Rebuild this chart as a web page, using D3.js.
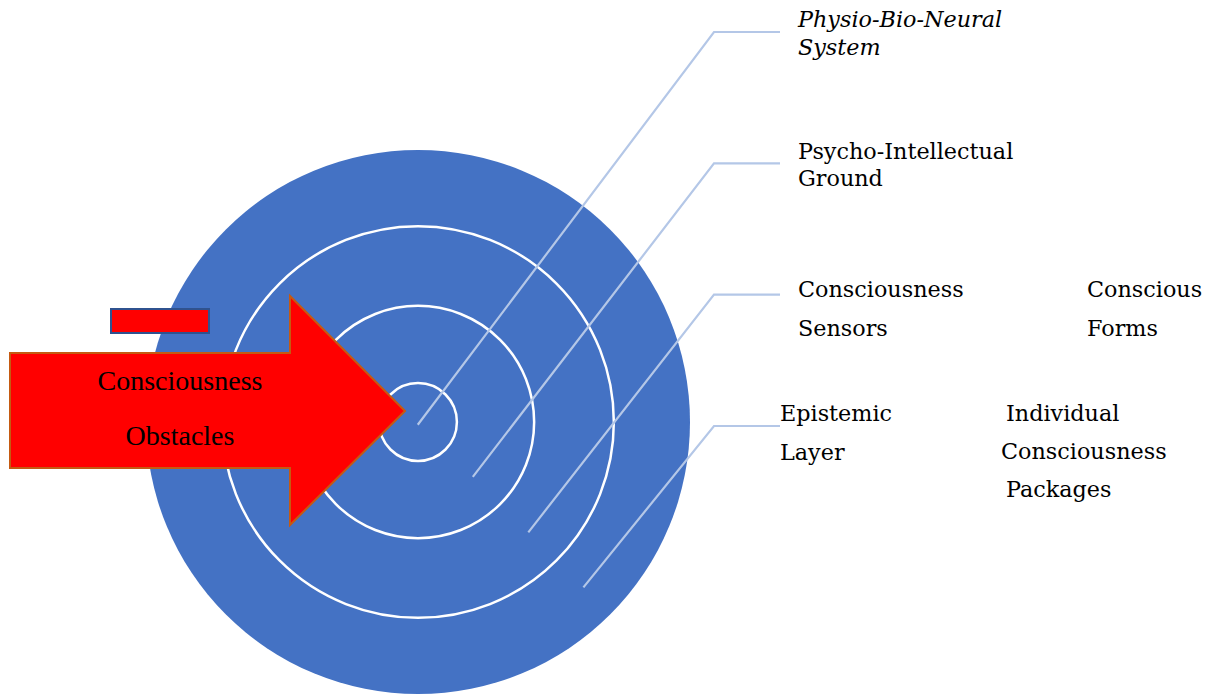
<!DOCTYPE html>
<html>
<head>
<meta charset="utf-8">
<script src="https://cdn.jsdelivr.net/npm/d3@7"></script>
<style>
  body { margin: 0; background: #fff; }
  svg { display: block; }
  .label { font-family: "DejaVu Serif", serif; font-size: 22.3px; fill: #000; }
</style>
</head>
<body>
<svg id="chart" width="1215" height="695"></svg>
<script>
// ring layers, outermost first (relative radius)
let ringNames = ['Epistemic Layer', 'Consciousness Sensors', 'Psycho-Intellectual Ground', 'Physio-Bio-Neural System'];
let ringRadius = [1, 0.72, 0.427, 0.143];

// label text blocks (lines per block), one leader per ring, innermost first
let leaderLabels = [
    { lines: ['Physio-Bio-Neural', 'System'], italic: true },
    { lines: ['Psycho-Intellectual', 'Ground'], italic: false },
    { lines: ['Consciousness', 'Sensors'], italic: false },
    { lines: ['Epistemic', 'Layer'], italic: false }
];
let extraLabels = [
    { lines: ['Conscious', 'Forms'] },
    { lines: ['Individual', 'Consciousness', 'Packages'] }
];
let arrowText = ['Consciousness', 'Obstacles'];

const svg = d3.select('#chart');
const cx = 418, cy = 422;

const r = d3.scaleLinear().domain([0, 1]).range([0, 272]); // relative radius -> px

// outer filled disc
svg.append('circle')
    .attr('cx', cx).attr('cy', cy)
    .attr('r', r(ringRadius[0]))
    .attr('fill', '#4472C4');

// inner white ring outlines
svg.selectAll('circle.ring')
    .data(ringRadius.slice(1))
    .enter().append('circle')
    .attr('class', 'ring')
    .attr('cx', cx).attr('cy', cy)
    .attr('r', d => r(d))
    .attr('fill', 'none')
    .attr('stroke', '#fff')
    .attr('stroke-width', 2.5);

// leader anchors: middle of each band on the 45 degree diagonal, innermost at centre
const inner = ringRadius.slice().reverse(); // innermost first
const anchorDist = inner.map((d, i) => i === 0 ? 0.03 : (inner[i] + inner[i - 1]) / 2);
const labelY = d3.scalePoint().domain(d3.range(4)).range([32, 426]);

const leaders = svg.append('g');
leaderLabels.forEach((lab, i) => {
    const dist = r(anchorDist[i]);
    const ax = cx + dist * Math.SQRT1_2 - (i === 0 ? 6 : 0);
    const ay = cy + dist * Math.SQRT1_2 - (i === 0 ? 3 : 0);
    const y = labelY(i);
    leaders.append('polyline')
        .attr('points', `${ax},${ay} 714,${y} 780,${y}`)
        .attr('fill', 'none')
        .attr('stroke', '#B4C7E7')
        .attr('stroke-width', 2.2);
});

// label text positions
const textPos = [
    { x: 798, y: 27, dy: 28 },
    { x: 798, y: 159, dy: 27 },
    { x: 798, y: 297, dy: 39 },
    { x: 780, y: 421, dy: 39 }
];
leaderLabels.forEach((lab, i) => {
    const p = textPos[i];
    lab.lines.forEach((line, j) => {
        svg.append('text')
            .attr('class', 'label')
            .attr('x', p.x).attr('y', p.y + j * p.dy)
            .style('font-style', lab.italic ? 'italic' : 'normal')
            .text(line);
    });
});

const extraPos = [
    { xs: [1087, 1087], y: 297, dy: 39 },
    { xs: [1006, 1001, 1006], y: 421, dy: 38 }
];
extraLabels.forEach((lab, i) => {
    const p = extraPos[i];
    lab.lines.forEach((line, j) => {
        svg.append('text')
            .attr('class', 'label')
            .attr('x', p.xs[j]).attr('y', p.y + j * p.dy)
            .text(line);
    });
});

// small red box
svg.append('rect')
    .attr('x', 111).attr('y', 309)
    .attr('width', 98).attr('height', 24)
    .attr('fill', '#FF0000')
    .attr('stroke', '#2F528F')
    .attr('stroke-width', 2);

// big red arrow
svg.append('path')
    .attr('d', 'M10,353 L290,353 L290,296 L405,411 L290,525 L290,468 L10,468 Z')
    .attr('fill', '#FF0000')
    .attr('stroke', '#C55A11')
    .attr('stroke-width', 2);

svg.selectAll('text.arrow')
    .data(arrowText)
    .enter().append('text')
    .attr('class', 'label arrow')
    .attr('x', 180)
    .attr('y', (d, i) => 390 + i * 55)
    .attr('text-anchor', 'middle')
    .style('font-family', '"Liberation Serif", serif')
    .style('font-size', '28px')
    .text(d => d);
</script>
</body>
</html>
